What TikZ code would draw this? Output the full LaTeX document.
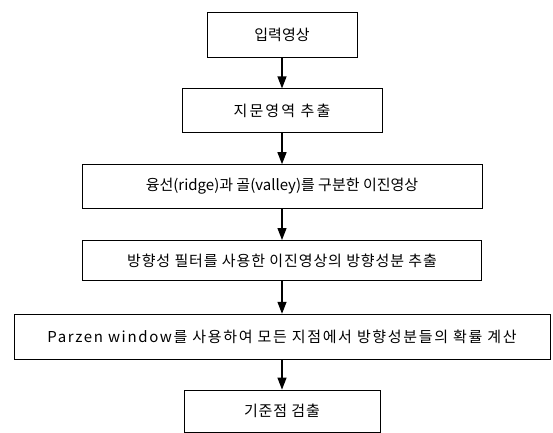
\documentclass[tikz,border=0pt]{standalone}
\usepackage{fontspec}
\setmainfont{Noto Sans CJK KR}
\usetikzlibrary{positioning,arrows.meta}
\tikzset{
  stepbox/.style={rectangle,draw,line width=0.8pt,minimum height=44pt,
    inner sep=0pt,font=\fontsize{15}{18}\selectfont},
  wide/.style={font=\fontsize{15}{18}\selectfont\addfontfeature{LetterSpace=#1}},
  flow/.style={-{Triangle[length=12pt,width=9pt]},line width=1.2pt}
}

\begin{document}
\begin{tikzpicture}[x=1pt,y=1pt,node distance=31pt]
    \useasboundingbox (0,0) rectangle (553,-432);

    \node[stepbox,minimum width=150pt,minimum height=45pt] (input) at (282,-34.5) {입력영상};
    \node[stepbox,wide=14,minimum width=200pt] (region) [below=of input] {지문영역 추출};
    \node[stepbox,minimum width=400pt] (binary) [below=of region] {융선(ridge)과 골(valley)를 구분한 이진영상};
    \node[stepbox,wide=6,minimum width=399pt,minimum height=40pt] (direction) [below=of binary] {방향성 필터를 사용한 이진영상의 방향성분 추출};
    % Parzen window step is the widest one
    \node[stepbox,wide=11,minimum width=536pt,minimum height=45pt] (parzen) [below=33pt of direction] {Parzen window를 사용하여 모든 지점에서 방향성분들의 확률 계산};
    \node[stepbox,wide=6,minimum width=196pt,minimum height=42pt] (refpoint) [below=30pt of parzen] {기준점 검출};

    \draw[flow] (input) -- (region);
    \draw[flow] (region) -- (binary);
    \draw[flow] (binary) -- (direction);
    \draw[flow] (direction) -- (parzen);
    \draw[flow] (parzen) -- (refpoint);
\end{tikzpicture}
\end{document}
